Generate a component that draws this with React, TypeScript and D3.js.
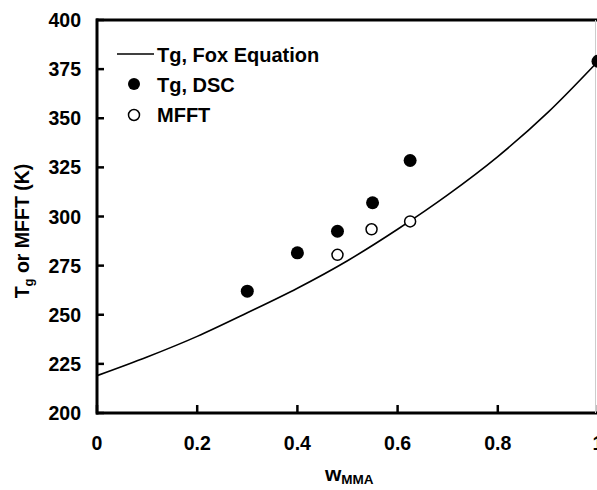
import React, { useEffect, useRef } from 'react';
import * as d3 from 'd3';

// Fox equation curve
const foxW = [0, 0.1, 0.2, 0.3, 0.4, 0.5, 0.6, 0.7, 0.8, 0.9, 1.0];
const foxTg = [219, 228.5, 239, 251, 263.5, 277.5, 293.5, 311, 330.5, 353, 379];

// Tg from DSC (filled)
const dscW = [0.3, 0.4, 0.48, 0.55, 0.625, 1.0];
const dscTg = [262, 281.5, 292.5, 307, 328.5, 379];

// MFFT (open)
const mfftW = [0.48, 0.548, 0.625];
const mfftT = [280.5, 293.5, 297.5];

const xTicks = [0, 0.2, 0.4, 0.6, 0.8, 1];
const yTicks = [200, 225, 250, 275, 300, 325, 350, 375, 400];

const W = 597;
const H = 490;
const font = 'Liberation Sans, Arial, sans-serif';

export default function App() {
  const ref = useRef<SVGSVGElement>(null);

  useEffect(() => {
    const svg = d3.select(ref.current);
    svg.selectAll('*').remove();

    const x = d3.scaleLinear().domain([0, 1]).range([97, 598]);
    const y = d3.scaleLinear().domain([200, 400]).range([413, 20]);

    const g = svg.append('g');

    // frame
    g.append('line').attr('x1', 96).attr('x2', 600).attr('y1', 20).attr('y2', 20)
      .attr('stroke', '#000').attr('stroke-width', 3);
    g.append('line').attr('x1', 96).attr('x2', 600).attr('y1', 413).attr('y2', 413)
      .attr('stroke', '#000').attr('stroke-width', 3);
    g.append('line').attr('x1', 97).attr('x2', 97).attr('y1', 18.5).attr('y2', 414.5)
      .attr('stroke', '#000').attr('stroke-width', 3);
    g.append('line').attr('x1', 595.5).attr('x2', 595.5).attr('y1', 20).attr('y2', 413)
      .attr('stroke', '#ccc').attr('stroke-width', 1);

    // y ticks
    yTicks.forEach(t => {
      g.append('line').attr('x1', 97).attr('x2', 104).attr('y1', y(t)).attr('y2', y(t))
        .attr('stroke', '#000').attr('stroke-width', 2.5);
      g.append('text').attr('x', 81).attr('y', y(t)).attr('dy', '0.36em')
        .attr('text-anchor', 'end').attr('font-family', font).attr('font-weight', 'bold')
        .attr('font-size', 19.5).text(t);
    });

    // x ticks
    xTicks.forEach(t => {
      g.append('line').attr('x1', x(t)).attr('x2', x(t)).attr('y1', 413).attr('y2', 405)
        .attr('stroke', '#000').attr('stroke-width', 2.5);
      g.append('text').attr('x', x(t)).attr('y', 450)
        .attr('text-anchor', 'middle').attr('font-family', font).attr('font-weight', 'bold')
        .attr('font-size', 19.5).text(t);
    });

    // Fox curve
    const line = d3.line<number>()
      .x((d, i) => x(foxW[i]))
      .y(d => y(d))
      .curve(d3.curveMonotoneX);
    g.append('path').datum(foxTg).attr('d', line)
      .attr('fill', 'none').attr('stroke', '#000').attr('stroke-width', 1.6);

    // DSC points
    dscW.forEach((w, i) => {
      g.append('circle').attr('cx', x(w)).attr('cy', y(dscTg[i])).attr('r', 6.5).attr('fill', '#000');
    });

    // MFFT points
    mfftW.forEach((w, i) => {
      g.append('circle').attr('cx', x(w)).attr('cy', y(mfftT[i])).attr('r', 5.5)
        .attr('fill', '#fff').attr('stroke', '#000').attr('stroke-width', 1.5);
    });

    // legend
    g.append('line').attr('x1', 117).attr('x2', 154).attr('y1', 54).attr('y2', 54)
      .attr('stroke', '#000').attr('stroke-width', 1.6);
    const leg = [
      { y: 55, label: 'Tg, Fox Equation' },
      { y: 85, label: 'Tg, DSC' },
      { y: 115, label: 'MFFT' },
    ];
    leg.forEach(l => {
      g.append('text').attr('x', 157).attr('y', l.y).attr('dy', '0.36em')
        .attr('font-family', font).attr('font-weight', 'bold').attr('font-size', 20).text(l.label);
    });
    g.append('circle').attr('cx', 134).attr('cy', 84).attr('r', 6).attr('fill', '#000');
    g.append('circle').attr('cx', 134).attr('cy', 115).attr('r', 5.5)
      .attr('fill', '#fff').attr('stroke', '#000').attr('stroke-width', 1.5);

    // x label
    const xl = g.append('text').attr('x', 325).attr('y', 481)
      .attr('font-family', font).attr('font-weight', 'bold').attr('font-size', 21);
    xl.append('tspan').text('w');
    xl.append('tspan').attr('font-size', 13.5).attr('dy', 3).text('MMA');

    // y label
    const yl = g.append('text').attr('transform', 'translate(29,231) rotate(-90)')
      .attr('text-anchor', 'middle')
      .attr('font-family', font).attr('font-weight', 'bold').attr('font-size', 19.5);
    yl.append('tspan').text('T');
    yl.append('tspan').attr('font-size', 13).attr('dy', 4).text('g');
    yl.append('tspan').attr('dy', -4).text(' or MFFT (K)');
  }, []);

  return (
    <svg ref={ref} width={W} height={H}
      style={{ position: 'absolute', left: 0, top: 0, background: '#fff' }} />
  );
}
